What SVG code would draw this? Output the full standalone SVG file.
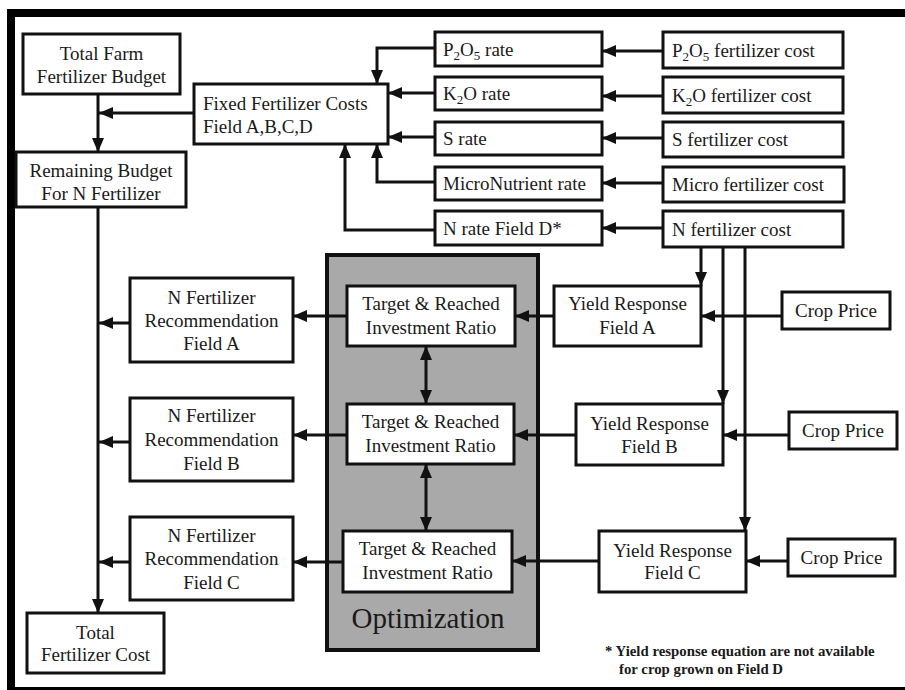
<svg xmlns="http://www.w3.org/2000/svg" width="905" height="690" viewBox="0 0 905 690">
<defs>
<marker id="ah" markerUnits="userSpaceOnUse" markerWidth="14" markerHeight="12" viewBox="0 0 14 12" refX="14" refY="6" orient="auto-start-reverse">
<path d="M0,0 L14,6 L0,12 z" fill="#111"/>
</marker>
<style>
.box{fill:#fff;stroke:#111;stroke-width:3}
.t{font-family:"Liberation Serif","Times New Roman",serif;font-size:19px;fill:#1a1a1a}
.c{text-anchor:middle}
.sub{font-size:13px}
.ln{fill:none;stroke:#111;stroke-width:3;marker-end:url(#ah)}
.fn{font-family:"Liberation Serif","Times New Roman",serif;font-size:14.8px;font-weight:bold;fill:#1a1a1a}
</style>
</defs>
<rect x="0" y="0" width="905" height="690" fill="#fff"/>
<rect x="11" y="13" width="910" height="678" fill="none" stroke="#000" stroke-width="8"/>

<g id="optimization">
<rect x="327" y="255" width="211" height="395" fill="#a9a9a9" stroke="#111" stroke-width="4"/>
<text class="t c" x="428" y="628" style="font-size:29px">Optimization</text>
</g>

<g id="connectors">
<path class="ln" d="M98,94 V152"/>
<path class="ln" d="M194,113 H99"/>
<path class="ln" d="M435,48 H377 V84"/>
<path class="ln" d="M435,93 H388"/>
<path class="ln" d="M435,137 H388"/>
<path class="ln" d="M435,182 H377 V144"/>
<path class="ln" d="M435,230 H345 V144"/>
<path class="ln" d="M663,51 H602"/>
<path class="ln" d="M663,96 H602"/>
<path class="ln" d="M663,138 H602"/>
<path class="ln" d="M663,183 H602"/>
<path class="ln" d="M663,228 H602"/>
<path class="ln" d="M701,247 V286"/>
<path class="ln" d="M723,247 V404"/>
<path class="ln" d="M745,247 V531"/>
<path class="ln" d="M782,316 H701"/>
<path class="ln" d="M789,435 H723"/>
<path class="ln" d="M788,561 H746"/>
<path class="ln" d="M554,316 H515"/>
<path class="ln" d="M576,435 H514"/>
<path class="ln" d="M599,561 H512"/>
<path class="ln" d="M347,316 H293"/>
<path class="ln" d="M347,435 H293"/>
<path class="ln" d="M343,562 H293"/>
<path class="ln" d="M130,323 H99"/>
<path class="ln" d="M130,442 H99"/>
<path class="ln" d="M130,562 H99"/>
<path class="ln" d="M98,207 V613"/>
<path class="ln" d="M426,346 V404" style="marker-start:url(#ah)"/>
<path class="ln" d="M426,464 V531" style="marker-start:url(#ah)"/>
</g>

<g id="total-farm-budget">
<rect class="box" x="23" y="34" width="157" height="60"/>
<text class="t c" x="101.5" y="59.5">Total Farm</text>
<text class="t c" x="101.5" y="82.5">Fertilizer Budget</text>
</g>
<g id="fixed-costs">
<rect class="box" x="194" y="84" width="194" height="60"/>
<text class="t" x="203" y="109.5">Fixed Fertilizer Costs</text>
<text class="t" x="203" y="132.5">Field A,B,C,D</text>
</g>
<g id="remaining-budget">
<rect class="box" x="16" y="152" width="170" height="55"/>
<text class="t c" x="101" y="176.5">Remaining  Budget</text>
<text class="t c" x="101" y="199.5">For N Fertilizer</text>
</g>

<g id="p2o5-rate">
<rect class="box" x="435" y="32" width="167" height="34"/>
<text class="t" x="443" y="55.5">P<tspan class="sub" dy="4">2</tspan><tspan dy="-4">O</tspan><tspan class="sub" dy="4">5</tspan><tspan dy="-4"> rate</tspan></text>
</g>
<g id="k2o-rate">
<rect class="box" x="435" y="77" width="167" height="33"/>
<text class="t" x="443" y="100">K<tspan class="sub" dy="4">2</tspan><tspan dy="-4">O rate</tspan></text>
</g>
<g id="s-rate">
<rect class="box" x="435" y="122" width="167" height="33"/>
<text class="t" x="443" y="145">S rate</text>
</g>
<g id="micro-rate">
<rect class="box" x="435" y="167" width="167" height="33"/>
<text class="t" x="443" y="190">MicroNutrient rate</text>
</g>
<g id="n-rate-d">
<rect class="box" x="435" y="211" width="167" height="34"/>
<text class="t" x="443" y="234.5">N rate Field D*</text>
</g>

<g id="p2o5-cost">
<rect class="box" x="663" y="32" width="180" height="36"/>
<text class="t" x="672" y="56.5">P<tspan class="sub" dy="4">2</tspan><tspan dy="-4">O</tspan><tspan class="sub" dy="4">5</tspan><tspan dy="-4"> fertilizer cost</tspan></text>
</g>
<g id="k2o-cost">
<rect class="box" x="663" y="77" width="180" height="36"/>
<text class="t" x="672" y="101.5">K<tspan class="sub" dy="4">2</tspan><tspan dy="-4">O fertilizer cost</tspan></text>
</g>
<g id="s-cost">
<rect class="box" x="663" y="122" width="180" height="35"/>
<text class="t" x="672" y="146">S fertilizer cost</text>
</g>
<g id="micro-cost">
<rect class="box" x="663" y="167" width="181" height="35"/>
<text class="t" x="672" y="191">Micro fertilizer cost</text>
</g>
<g id="n-cost">
<rect class="box" x="663" y="211" width="180" height="36"/>
<text class="t" x="672" y="235.5">N fertilizer cost</text>
</g>

<g id="rec-a">
<rect class="box" x="130" y="278" width="163" height="84"/>
<text class="t c" x="211.5" y="303.5">N Fertilizer</text>
<text class="t c" x="211.5" y="326.5">Recommendation</text>
<text class="t c" x="211.5" y="349.5">Field A</text>
</g>
<g id="rec-b">
<rect class="box" x="130" y="398" width="163" height="83"/>
<text class="t c" x="211.5" y="421.5">N Fertilizer</text>
<text class="t c" x="211.5" y="445.5">Recommendation</text>
<text class="t c" x="211.5" y="469.5">Field B</text>
</g>
<g id="rec-c">
<rect class="box" x="130" y="517" width="163" height="83"/>
<text class="t c" x="211.5" y="541.5">N Fertilizer</text>
<text class="t c" x="211.5" y="564.5">Recommendation</text>
<text class="t c" x="211.5" y="588.5">Field C</text>
</g>

<g id="target-a">
<rect class="box" x="347" y="286" width="168" height="60"/>
<text class="t c" x="431" y="309.5">Target &amp; Reached</text>
<text class="t c" x="431" y="333.5">Investment  Ratio</text>
</g>
<g id="target-b">
<rect class="box" x="347" y="404" width="167" height="60"/>
<text class="t c" x="430.5" y="427.5">Target &amp; Reached</text>
<text class="t c" x="430.5" y="451.5">Investment  Ratio</text>
</g>
<g id="target-c">
<rect class="box" x="343" y="531" width="169" height="61"/>
<text class="t c" x="427.5" y="554.5">Target &amp; Reached</text>
<text class="t c" x="427.5" y="578.5">Investment  Ratio</text>
</g>

<g id="yield-a">
<rect class="box" x="554" y="286" width="147" height="60"/>
<text class="t c" x="627.5" y="309.5">Yield Response</text>
<text class="t c" x="627.5" y="333.5">Field A</text>
</g>
<g id="yield-b">
<rect class="box" x="576" y="404" width="147" height="61"/>
<text class="t c" x="649.5" y="429.5">Yield Response</text>
<text class="t c" x="649.5" y="452.5">Field B</text>
</g>
<g id="yield-c">
<rect class="box" x="599" y="531" width="147" height="61"/>
<text class="t c" x="672.5" y="556.5">Yield Response</text>
<text class="t c" x="672.5" y="578.5">Field C</text>
</g>

<g id="crop-a">
<rect class="box" x="782" y="292" width="108" height="37"/>
<text class="t c" x="836" y="317">Crop Price</text>
</g>
<g id="crop-b">
<rect class="box" x="789" y="412" width="108" height="37"/>
<text class="t c" x="843" y="437">Crop Price</text>
</g>
<g id="crop-c">
<rect class="box" x="788" y="539" width="107" height="37"/>
<text class="t c" x="841.5" y="564">Crop Price</text>
</g>

<g id="total-cost">
<rect class="box" x="27" y="613" width="137" height="60"/>
<text class="t c" x="95.5" y="638.5">Total</text>
<text class="t c" x="95.5" y="660.5">Fertilizer Cost</text>
</g>

<g id="footnote">
<text class="fn" x="605" y="656">* Yield  response equation  are not available</text>
<text class="fn" x="619" y="674">for crop  grown  on Field  D</text>
</g>
</svg>
